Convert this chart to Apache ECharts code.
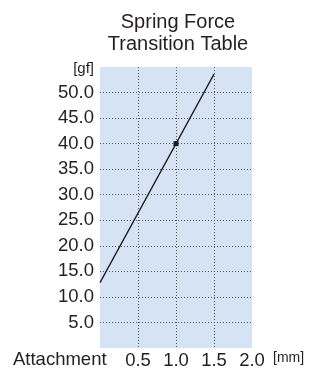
<!DOCTYPE html>
<html>
<head>
<meta charset="utf-8">
<script src="https://cdn.jsdelivr.net/npm/echarts@6/dist/echarts.min.js"></script>
<style>
  html, body { margin: 0; padding: 0; background: #fff; }
  #chart { width: 312px; height: 370px; }
</style>
</head>
<body>
<div id="chart"></div>
<script>
// data
var strokeMm = [0, 1.0, 1.5];
var forceGf = [12.8, 40.0, 53.6];
var markedIndex = 1;          // only the 1.0 mm point has a dot
var xTicks = [0.5, 1.0, 1.5, 2.0];
var yTicks = [5, 10, 15, 20, 25, 30, 35, 40, 45, 50];

var FONT = 'Liberation Sans, Arial, sans-serif';
var INK = '#231f20';

var lineData = strokeMm.map(function (x, i) {
  var item = { value: [x, forceGf[i]] };
  if (i === markedIndex) {
    item.symbol = 'rect';
    item.symbolSize = 5;
  } else {
    item.symbol = 'none';
  }
  return item;
});

var myChart = echarts.init(document.getElementById('chart'), null, { renderer: 'canvas' });

var option = {
  animation: false,
  textStyle: { fontFamily: FONT, color: INK },
  title: {
    text: 'Spring Force\nTransition Table',
    left: 178,
    top: 11,
    padding: 0,
    textAlign: 'center',
    textStyle: { fontFamily: FONT, fontSize: 20, fontWeight: 'normal', color: INK, lineHeight: 22 }
  },
  grid: {
    left: 100, right: 60, top: 67, bottom: 20,
    show: true,
    backgroundColor: '#d5e3f4',
    borderWidth: 0
  },
  graphic: [{
    type: 'text',
    left: 13,
    top: 350,
    style: { text: 'Attachment', font: '18.5px ' + FONT, fill: INK }
  }],
  xAxis: {
    type: 'value',
    min: 0, max: 2, interval: 0.5,
    name: '[mm]',
    nameLocation: 'end',
    nameGap: 21,
    nameTextStyle: { fontFamily: FONT, fontSize: 14, color: INK, align: 'left', verticalAlign: 'top', padding: [3, 0, 0, 0] },
    axisLine: { show: false },
    axisTick: { show: false },
    axisLabel: {
      margin: 3,
      fontSize: 18.5, fontFamily: FONT, color: INK,
      formatter: function (v) { return xTicks.indexOf(v) >= 0 ? v.toFixed(1) : ''; }
    },
    splitLine: {
      show: true, showMinLine: false, showMaxLine: false,
      lineStyle: { color: '#555', type: [1, 2], width: 1 }
    }
  },
  yAxis: {
    type: 'value',
    min: 0, max: 55, interval: 5,
    axisLine: { show: false },
    axisTick: { show: false },
    axisLabel: {
      margin: 6,
      fontSize: 18.5, fontFamily: FONT, color: INK,
      formatter: function (v) {
        if (v === 55) return '{u|[gf]}';
        return yTicks.indexOf(v) >= 0 ? v.toFixed(1) : '';
      },
      rich: { u: { fontSize: 15, fontFamily: FONT, color: INK, padding: [3, 0, 0, 0] } }
    },
    splitLine: {
      show: true, showMinLine: false, showMaxLine: false,
      lineStyle: { color: '#555', type: [1, 2], width: 1 }
    }
  },
  series: [{
    type: 'line',
    data: lineData,
    showAllSymbol: true,
    lineStyle: { color: '#1a1a1a', width: 1.3 },
    itemStyle: { color: '#1a1a1a' }
  }]
};

myChart.setOption(option);
</script>
</body>
</html>
